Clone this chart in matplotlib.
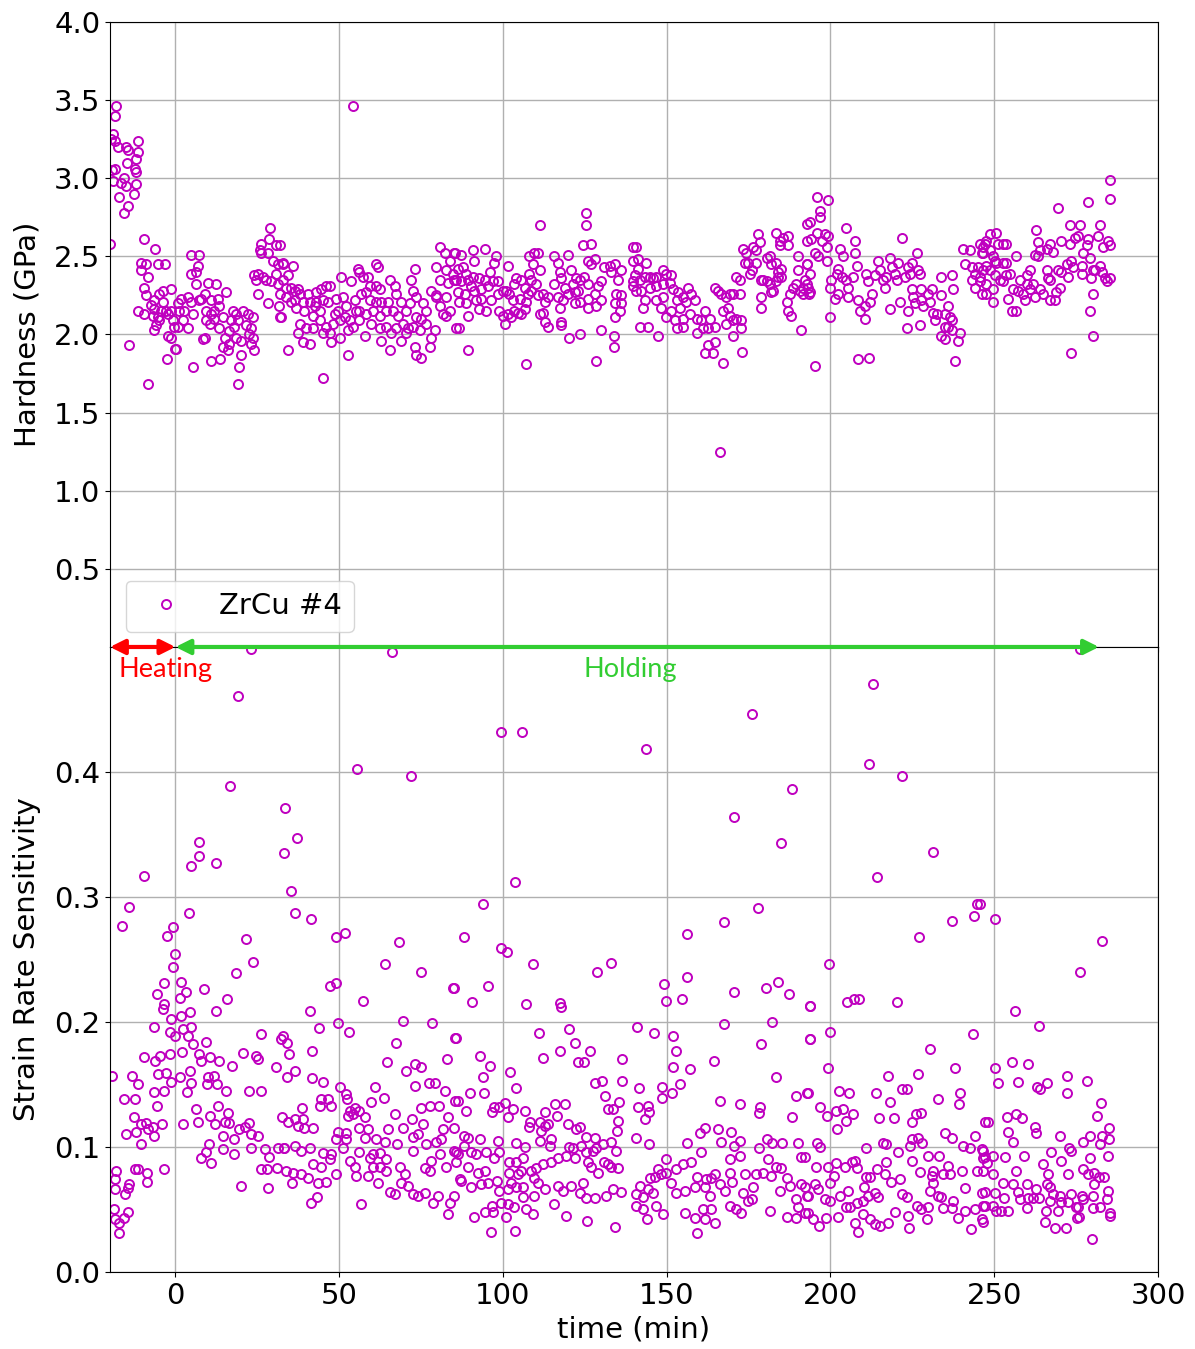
import matplotlib
matplotlib.use("Agg")
import matplotlib.pyplot as plt
import numpy as np

# ---- data: (time in min, value), grouped by time window ----

# hardness (GPa)
hard_m20_33 = [
    (-19.9, 2.58), (-19.8, 3.25), (-19.5, 3.05), (-18.1, 3.46), (-18.4, 3.40), (-19.2, 3.28),
    (-18.6, 3.24), (-17.6, 3.20), (-15.1, 3.20), (-14.6, 3.18), (-11.5, 3.24), (-11.5, 3.17),
    (-12.0, 3.12), (-14.8, 3.10), (-12.5, 3.06), (-12.0, 3.04), (-18.6, 3.06), (-15.6, 3.00),
    (-19.2, 2.98), (-16.6, 2.97), (-15.1, 2.95), (-12.0, 2.96), (-12.7, 2.90), (-17.1, 2.88),
    (-14.4, 2.82), (-15.8, 2.78),
    (-9.5, 2.61), (-6.2, 2.55), (-10.5, 2.46), (-9.0, 2.45), (-5.4, 2.45), (-3.2, 2.45),
    (-10.5, 2.41), (-8.5, 2.37), (-9.7, 2.30), (-9.0, 2.25), (-11.5, 2.15), (-9.5, 2.13),
    (-6.4, 2.22), (-4.9, 2.26), (-3.9, 2.28), (-1.5, 2.29), (-6.4, 2.16), (-4.4, 2.15),
    (-2.9, 2.15), (-6.9, 2.12), (-5.4, 2.11), (-6.4, 2.03), (-5.9, 2.06), (-2.3, 1.99),
    (-1.3, 1.98), (-2.5, 1.84), (-14.1, 1.93), (-8.3, 1.68), (0.0, 1.91), (-0.8, 2.09),
    (-1.3, 2.15), (-7.4, 2.19), (-3.9, 2.21), (-2.4, 2.13), (-0.3, 2.05), (-4.9, 2.09),
    (4.8, 2.51), (7.3, 2.51), (6.8, 2.44), (4.8, 2.39), (6.3, 2.40), (6.3, 2.32), (9.9, 2.33),
    (12.4, 2.32), (1.7, 2.23), (3.8, 2.24), (4.6, 2.21), (7.8, 2.23), (7.3, 2.22), (1.2, 2.15),
    (2.7, 2.15), (5.3, 2.13), (2.2, 2.09), (3.8, 2.04), (0.7, 2.05), (0.2, 1.91), (5.3, 1.79),
    (9.4, 2.15), (10.9, 2.13), (11.9, 2.15), (13.4, 2.18), (15.5, 2.27), (12.9, 2.23),
    (9.4, 2.09), (10.4, 2.07), (11.9, 2.10), (13.4, 2.04), (15.0, 1.98), (8.9, 1.98),
    (8.3, 1.97), (10.9, 1.83), (13.7, 1.84), (16.5, 2.02), (18.5, 1.98), (20.1, 1.96),
    (16.5, 1.94), (16.0, 1.90), (17.5, 2.15), (18.5, 2.13), (19.0, 2.09), (20.6, 2.15),
    (22.1, 2.13), (23.6, 2.11), (23.1, 2.04), (23.6, 1.98), (23.1, 1.94), (24.1, 1.90),
    (19.0, 1.68), (19.5, 1.79), (20.1, 1.87), (14.5, 1.92), (0.7, 2.20), (8.9, 2.26),
    (10.9, 2.22), (14.5, 2.11), (17.0, 2.09), (21.6, 2.06), (22.6, 2.00), (18.0, 2.05),
    (29.0, 2.68), (28.5, 2.61), (30.7, 2.57), (26.2, 2.58), (25.7, 2.54), (28.2, 2.52),
    (29.7, 2.47), (31.3, 2.45), (32.8, 2.46), (24.1, 2.38), (25.1, 2.39), (26.7, 2.37),
    (27.7, 2.35), (29.2, 2.34), (30.7, 2.39), (31.3, 2.32), (25.3, 2.26), (28.2, 2.20),
    (31.5, 2.18), (31.8, 2.11), (24.6, 2.35), (26.2, 2.52),
]
hard_32_86 = [
    (31.8, 2.57), (32.8, 2.45), (35.9, 2.44), (34.3, 2.38), (32.8, 2.35), (35.4, 2.30),
    (36.4, 2.28), (37.4, 2.29), (31.8, 2.26), (33.8, 2.24), (36.4, 2.22), (37.9, 2.26),
    (32.3, 2.11), (35.4, 2.21), (36.9, 2.17), (38.9, 2.21), (41.0, 2.21), (39.4, 2.15),
    (37.9, 2.07), (40.0, 2.04), (42.0, 2.04), (37.4, 2.01), (38.9, 1.95), (41.0, 1.94),
    (34.3, 1.90), (45.0, 1.72), (43.0, 2.27), (44.5, 2.29), (46.1, 2.31), (47.1, 2.31),
    (43.0, 2.21), (45.0, 2.22), (46.6, 2.21), (44.0, 2.15), (42.0, 2.12), (44.0, 2.09),
    (46.1, 2.05), (47.1, 2.01), (48.1, 2.07), (45.0, 2.01), (47.6, 1.95), (50.6, 2.37),
    (53.7, 2.34), (49.1, 2.23), (49.6, 2.15), (51.1, 2.24), (52.2, 2.18), (51.7, 2.11),
    (53.2, 2.09), (55.2, 2.15), (54.2, 2.05), (52.7, 2.03), (50.1, 1.98), (52.7, 1.87),
    (57.8, 1.99), (55.7, 2.42), (56.2, 2.40), (57.3, 2.37), (58.8, 2.37), (61.3, 2.45),
    (61.8, 2.43), (59.3, 2.31), (61.3, 2.31), (62.4, 2.29), (56.7, 2.26), (58.3, 2.27),
    (59.3, 2.22), (61.3, 2.21), (62.9, 2.21), (64.9, 2.21), (56.2, 2.15), (58.3, 2.13),
    (60.3, 2.15), (62.4, 2.12), (64.4, 2.15), (66.4, 2.15), (59.8, 2.07), (62.4, 2.04),
    (64.4, 2.05), (65.9, 2.01), (67.4, 2.04), (62.9, 1.96), (65.4, 1.90), (65.4, 2.35),
    (66.9, 2.31), (69.0, 2.21), (70.5, 2.15), (68.0, 2.12), (69.5, 2.07), (71.0, 2.04),
    (69.0, 1.96), (70.5, 2.01), (72.5, 2.05), (72.0, 2.35), (72.5, 2.28), (73.0, 2.42),
    (73.6, 2.24), (75.6, 2.20), (73.6, 2.11), (75.1, 2.10), (76.6, 2.07), (74.6, 2.03),
    (73.0, 1.92), (73.6, 1.87), (75.1, 1.85), (77.6, 1.92), (78.1, 1.98), (79.2, 2.03),
    (78.1, 2.28), (79.7, 2.25), (80.7, 2.18), (81.7, 2.13), (82.7, 2.12), (83.7, 2.15),
    (85.8, 2.04), (80.7, 2.56), (82.2, 2.52), (83.7, 2.47), (85.3, 2.52), (79.7, 2.43),
    (82.7, 2.41), (84.8, 2.39), (80.7, 2.35), (83.2, 2.33), (85.8, 2.35), (79.7, 2.24),
    (82.7, 2.24), (33.8, 2.30), (40.5, 2.26), (42.5, 2.18), (48.6, 2.13), (50.1, 2.09),
    (56.2, 2.09), (54.7, 2.22), (67.4, 2.26), (71.5, 2.20), (76.6, 2.15), (54.2, 3.46),
]
hard_85_140 = [
    (85.2, 2.52), (87.2, 2.51), (90.8, 2.54), (94.4, 2.55), (91.3, 2.47), (86.2, 2.42),
    (87.7, 2.43), (88.8, 2.39), (90.8, 2.37), (89.3, 2.35), (85.2, 2.35), (87.2, 2.34),
    (90.3, 2.31), (92.8, 2.36), (94.4, 2.35), (95.9, 2.40), (97.4, 2.46), (97.9, 2.50),
    (86.2, 2.27), (88.3, 2.26), (91.3, 2.28), (93.3, 2.29), (95.4, 2.31), (96.9, 2.34),
    (98.4, 2.34), (86.7, 2.21), (88.8, 2.20), (91.8, 2.22), (93.3, 2.23), (96.4, 2.22),
    (98.4, 2.26), (100.0, 2.28), (92.8, 2.16), (94.9, 2.15), (86.7, 2.04), (89.3, 1.90),
    (89.3, 2.12), (98.9, 2.15), (100.0, 2.12), (100.5, 2.07), (101.5, 2.13), (102.5, 2.11),
    (103.5, 2.15), (104.5, 2.14), (105.6, 2.13), (106.6, 2.16), (101.5, 2.44), (101.0, 2.28),
    (102.0, 2.26), (103.5, 2.32), (104.0, 2.36), (105.6, 2.35), (106.6, 2.30), (107.6, 2.26),
    (103.0, 2.22), (105.1, 2.23), (107.1, 2.21), (107.1, 1.81), (108.1, 2.50), (109.6, 2.52),
    (110.7, 2.52), (109.1, 2.45), (111.2, 2.41), (108.1, 2.39), (111.2, 2.70), (108.6, 2.35),
    (110.1, 2.32), (108.6, 2.28), (110.7, 2.25), (112.2, 2.26), (112.7, 2.21), (113.7, 2.24),
    (112.2, 2.14), (111.2, 2.13), (112.7, 2.08), (113.7, 2.05), (115.7, 2.50), (116.8, 2.46),
    (117.3, 2.40), (117.8, 2.36), (115.7, 2.32), (118.8, 2.30), (119.8, 2.26), (116.8, 2.24),
    (118.3, 2.22), (117.3, 2.17), (117.8, 2.08), (117.8, 2.06), (120.3, 1.98), (123.4, 2.00),
    (119.8, 2.51), (120.8, 2.41), (122.4, 2.36), (123.4, 2.35), (121.9, 2.27), (122.9, 2.28),
    (121.9, 2.20), (123.4, 2.21), (121.4, 2.32), (124.9, 2.37), (124.4, 2.57), (127.0, 2.58),
    (125.4, 2.70), (125.4, 2.78), (125.9, 2.47), (127.0, 2.45), (128.0, 2.48), (125.9, 2.32),
    (125.9, 2.23), (128.0, 2.26), (129.0, 2.31), (130.0, 2.34), (125.9, 2.17), (128.5, 2.18),
    (130.0, 2.22), (130.0, 2.03), (128.5, 1.83), (131.0, 2.43), (132.6, 2.44), (133.1, 2.40),
    (134.1, 2.45), (136.1, 2.41), (135.1, 2.35), (134.6, 2.26), (136.1, 2.25), (134.1, 2.20),
    (135.6, 2.15), (136.1, 2.20), (134.1, 2.11), (133.9, 1.99), (133.9, 1.92), (139.7, 2.56),
    (139.7, 2.47), (139.7, 2.31),
]
hard_139_194 = [
    (140.7, 2.56), (141.2, 2.48), (143.8, 2.46), (141.2, 2.42), (139.7, 2.34), (141.8, 2.35),
    (140.2, 2.38), (143.3, 2.37), (144.8, 2.37), (145.8, 2.36), (146.8, 2.37), (140.7, 2.28),
    (142.3, 2.28), (144.8, 2.30), (146.8, 2.31), (148.9, 2.41), (149.9, 2.39), (148.9, 2.32),
    (150.9, 2.33), (151.4, 2.38), (143.3, 2.22), (142.8, 2.17), (146.8, 2.22), (148.9, 2.24),
    (148.4, 2.17), (141.8, 2.05), (144.3, 2.05), (147.2, 1.99), (151.9, 2.29), (153.5, 2.27),
    (155.0, 2.24), (156.5, 2.30), (157.5, 2.26), (158.6, 2.22), (153.0, 2.22), (154.0, 2.17),
    (156.0, 2.21), (151.4, 2.15), (149.9, 2.11), (152.4, 2.09), (155.0, 2.10), (157.0, 2.13),
    (153.0, 2.04), (155.0, 2.05), (159.1, 2.10), (160.6, 2.09), (161.6, 2.15), (163.1, 2.10),
    (161.1, 2.04), (159.1, 2.01), (162.6, 2.04), (164.7, 2.05), (161.6, 1.88), (162.6, 1.93),
    (164.2, 1.88), (164.7, 1.95), (167.2, 1.82), (164.7, 2.30), (165.7, 2.28), (166.7, 2.26),
    (168.2, 2.24), (169.3, 2.26), (170.3, 2.26), (172.3, 2.26), (168.7, 2.17), (167.2, 2.15),
    (169.3, 2.12), (170.3, 2.09), (171.3, 2.10), (172.8, 2.09), (172.8, 2.04), (170.3, 1.99),
    (168.2, 2.07), (173.1, 1.89), (166.2, 1.25), (171.3, 2.37), (172.3, 2.35), (173.3, 2.55),
    (174.3, 2.52), (173.8, 2.46), (174.9, 2.46), (175.4, 2.39), (175.9, 2.41), (176.4, 2.56),
    (177.4, 2.54), (177.4, 2.46), (177.9, 2.64), (178.4, 2.59), (178.9, 2.35), (178.9, 2.24),
    (178.9, 2.17), (180.5, 2.49), (181.5, 2.50), (182.0, 2.45), (183.5, 2.46), (184.0, 2.40),
    (185.0, 2.42), (185.0, 2.37), (179.4, 2.35), (180.5, 2.34), (181.5, 2.32), (182.5, 2.28),
    (183.5, 2.34), (184.0, 2.37), (182.0, 2.27), (183.5, 2.65), (184.5, 2.60), (185.5, 2.62),
    (187.1, 2.63), (184.5, 2.57), (187.1, 2.57), (190.1, 2.50), (190.1, 2.41), (192.7, 2.45),
    (187.6, 2.26), (188.6, 2.30), (189.6, 2.32), (190.6, 2.28), (191.6, 2.30), (192.7, 2.32),
    (193.7, 2.27), (186.6, 2.21), (187.1, 2.15), (188.1, 2.12), (191.6, 2.26), (191.0, 2.03),
    (192.7, 2.71), (192.7, 2.60),
]
hard_192_247 = [
    (195.8, 2.88), (199.3, 2.86), (196.8, 2.79), (196.8, 2.75), (193.7, 2.72), (194.2, 2.61),
    (195.8, 2.65), (197.3, 2.60), (198.3, 2.64), (199.3, 2.63), (198.8, 2.56), (195.3, 2.52),
    (196.3, 2.50), (198.8, 2.47), (192.7, 2.45), (193.7, 2.39), (192.2, 2.35), (193.2, 2.30),
    (193.4, 2.26), (195.3, 1.80), (199.8, 2.11), (200.3, 2.35), (199.8, 2.30), (201.4, 2.23),
    (202.4, 2.26), (201.9, 2.39), (202.4, 2.42), (202.9, 2.55), (203.9, 2.50), (203.4, 2.37),
    (204.9, 2.35), (205.4, 2.30), (205.4, 2.24), (207.0, 2.37), (208.0, 2.44), (207.5, 2.52),
    (204.9, 2.68), (207.5, 2.60), (208.5, 2.22), (209.0, 2.15), (210.5, 2.18), (210.5, 2.10),
    (211.0, 2.39), (211.5, 2.34), (212.6, 2.26), (212.1, 2.21), (208.5, 1.84), (211.8, 1.85),
    (213.6, 2.38), (214.6, 2.47), (215.1, 2.41), (216.1, 2.35), (216.6, 2.30), (217.1, 2.37),
    (218.2, 2.49), (218.7, 2.43), (219.7, 2.39), (220.7, 2.46), (220.2, 2.35), (218.2, 2.16),
    (221.2, 2.21), (221.7, 2.62), (222.7, 2.37), (223.8, 2.43), (224.8, 2.46), (224.3, 2.39),
    (224.8, 2.29), (223.3, 2.04), (223.8, 2.15), (225.3, 2.24), (226.3, 2.52), (226.8, 2.41),
    (227.3, 2.39), (227.8, 2.29), (225.8, 2.20), (227.8, 2.22), (228.3, 2.18), (229.9, 2.26),
    (230.9, 2.29), (230.4, 2.21), (231.4, 2.14), (231.9, 2.09), (232.4, 2.13), (233.9, 2.37),
    (233.9, 2.25), (235.0, 2.13), (236.0, 2.18), (237.0, 2.38), (237.5, 2.29), (236.5, 2.11),
    (237.0, 2.09), (235.0, 2.05), (233.9, 1.99), (236.0, 2.05), (235.0, 1.97), (237.0, 2.03),
    (239.5, 2.01), (239.0, 1.96), (238.0, 1.83), (227.3, 2.06), (240.6, 2.55), (242.6, 2.54),
    (241.1, 2.45), (243.1, 2.43), (244.1, 2.39), (245.2, 2.43), (246.2, 2.52), (247.2, 2.58),
    (244.1, 2.30), (246.2, 2.26), (243.1, 2.35),
]
hard_245_286 = [
    (245.6, 2.58), (247.6, 2.60), (248.7, 2.64), (250.7, 2.65), (251.2, 2.58), (252.7, 2.58),
    (253.7, 2.58), (246.6, 2.56), (246.6, 2.52), (248.7, 2.54), (249.7, 2.50), (250.2, 2.47),
    (247.6, 2.44), (246.6, 2.41), (248.7, 2.41), (250.7, 2.46), (252.7, 2.46), (253.7, 2.46),
    (256.8, 2.50), (245.6, 2.37), (245.6, 2.34), (247.6, 2.32), (250.2, 2.38), (251.7, 2.35),
    (252.7, 2.34), (253.7, 2.38), (254.8, 2.39), (247.6, 2.26), (249.7, 2.29), (249.7, 2.21),
    (254.3, 2.23), (255.8, 2.29), (255.3, 2.15), (256.8, 2.15), (257.8, 2.35), (257.3, 2.28),
    (258.8, 2.26), (259.3, 2.22), (259.9, 2.32), (260.9, 2.41), (259.9, 2.38), (260.9, 2.29),
    (261.9, 2.32), (262.4, 2.24), (263.9, 2.29), (264.9, 2.26), (266.0, 2.41), (266.5, 2.36),
    (267.0, 2.35), (267.0, 2.22), (268.5, 2.22), (269.0, 2.27), (270.0, 2.30), (269.5, 2.41),
    (270.5, 2.40), (262.9, 2.67), (263.4, 2.59), (266.0, 2.55), (267.0, 2.58), (268.0, 2.53),
    (263.9, 2.54), (263.4, 2.50), (262.4, 2.51), (269.5, 2.81), (270.5, 2.60), (273.1, 2.70),
    (273.1, 2.58), (273.6, 2.47), (272.1, 2.45), (272.6, 2.37), (274.1, 2.43), (274.6, 2.62),
    (275.6, 2.63), (276.1, 2.70), (276.7, 2.44), (277.2, 2.52), (276.7, 2.39), (278.7, 2.61),
    (279.2, 2.49), (278.2, 2.57), (279.7, 2.36), (280.2, 2.41), (280.7, 2.41), (281.8, 2.63),
    (282.3, 2.70), (282.3, 2.44), (282.8, 2.40), (283.3, 2.56), (283.8, 2.36), (284.8, 2.60),
    (284.3, 2.34), (285.3, 2.57), (285.5, 2.36), (273.6, 1.88), (280.2, 1.99), (279.2, 2.15),
    (280.2, 2.26), (278.7, 2.85), (285.3, 2.87), (285.3, 2.99),
]

# strain rate sensitivity (-)
srs_m20_33 = [
    (23.1, 0.498), (19.0, 0.461), (16.8, 0.389), (7.3, 0.344), (7.1, 0.333), (4.8, 0.325),
    (12.4, 0.327), (-9.5, 0.317), (-14.1, 0.292), (-16.4, 0.277), (4.0, 0.287), (-0.6, 0.276),
    (-2.7, 0.269), (0.0, 0.254), (-0.8, 0.244), (-3.4, 0.231), (-5.6, 0.222), (1.7, 0.232),
    (3.2, 0.224), (1.5, 0.219), (8.6, 0.226), (-3.6, 0.214), (-3.9, 0.210), (4.3, 0.208),
    (12.4, 0.209), (15.8, 0.218), (21.4, 0.266), (23.8, 0.248), (18.6, 0.239), (1.7, 0.205),
    (-1.3, 0.202), (-6.4, 0.196), (-1.8, 0.192), (-0.1, 0.189), (2.2, 0.194), (4.6, 0.196),
    (3.8, 0.189), (26.2, 0.190), (32.3, 0.186), (9.4, 0.184), (5.3, 0.182), (-9.5, 0.172),
    (-4.6, 0.173), (-1.8, 0.174), (2.0, 0.176), (7.3, 0.174), (7.8, 0.169), (10.7, 0.172),
    (13.4, 0.169), (20.6, 0.175), (24.6, 0.173), (25.1, 0.170), (-6.2, 0.169), (-19.5, 0.157),
    (-13.3, 0.157), (-11.5, 0.150), (-5.4, 0.158), (-2.9, 0.159), (-1.3, 0.152), (1.5, 0.156),
    (4.3, 0.161), (4.8, 0.151), (9.6, 0.150), (9.9, 0.156), (11.9, 0.157), (12.7, 0.150),
    (15.5, 0.145), (17.3, 0.165), (22.6, 0.145), (26.0, 0.145), (30.7, 0.164), (-15.8, 0.138),
    (-12.2, 0.138), (-6.4, 0.144), (-3.6, 0.145), (3.5, 0.144), (-5.6, 0.133), (6.3, 0.130),
    (6.8, 0.120), (12.9, 0.133), (16.0, 0.127), (10.4, 0.125), (-12.7, 0.124), (-15.1, 0.110),
    (-12.0, 0.112), (-10.5, 0.118), (-9.0, 0.119), (-8.5, 0.114), (-7.0, 0.116), (-6.4, 0.109),
    (-4.1, 0.118), (-10.5, 0.102), (2.2, 0.118), (12.0, 0.118), (15.0, 0.120), (16.5, 0.119),
    (14.5, 0.109), (18.0, 0.106), (19.5, 0.114), (21.1, 0.116), (22.6, 0.119), (23.1, 0.110),
    (25.1, 0.109), (10.1, 0.102), (9.2, 0.096), (7.8, 0.091), (10.9, 0.087), (14.5, 0.098),
    (18.0, 0.094), (23.1, 0.099), (27.2, 0.098), (28.7, 0.092), (31.3, 0.099), (33.3, 0.099),
    (26.2, 0.082), (28.0, 0.082), (31.0, 0.083), (20.1, 0.069), (28.2, 0.067), (-18.1, 0.081),
    (-18.6, 0.074), (-18.6, 0.066), (-15.4, 0.062), (-14.1, 0.070), (-14.6, 0.067),
    (-12.5, 0.082), (-11.5, 0.082), (-8.7, 0.079), (-8.7, 0.072), (-3.4, 0.082), (-18.8, 0.050),
    (-18.6, 0.042), (-17.1, 0.039), (-15.6, 0.043), (-14.4, 0.048), (-17.1, 0.031),
]
srs_32_86 = [
    (66.2, 0.496), (55.4, 0.402), (71.8, 0.397), (33.5, 0.371), (37.1, 0.347), (33.1, 0.335),
    (35.2, 0.305), (36.4, 0.287), (41.3, 0.282), (49.1, 0.268), (51.7, 0.271), (68.2, 0.264),
    (64.1, 0.246), (75.1, 0.240), (47.3, 0.229), (49.1, 0.231), (84.8, 0.227), (57.3, 0.217),
    (41.2, 0.209), (69.5, 0.201), (49.6, 0.199), (78.3, 0.199), (43.8, 0.195), (52.9, 0.192),
    (32.8, 0.189), (34.0, 0.183), (34.7, 0.174), (41.8, 0.177), (85.3, 0.187), (67.2, 0.183),
    (82.9, 0.170), (64.6, 0.168), (73.0, 0.166), (74.9, 0.164), (70.3, 0.161), (36.6, 0.161),
    (34.0, 0.156), (41.8, 0.155), (45.2, 0.152), (50.1, 0.148), (73.2, 0.149), (77.3, 0.151),
    (79.4, 0.151), (82.2, 0.145), (61.0, 0.148), (63.7, 0.139), (52.2, 0.142), (52.5, 0.138),
    (44.5, 0.138), (46.6, 0.138), (47.6, 0.133), (44.0, 0.133), (59.8, 0.136), (75.1, 0.131),
    (77.8, 0.133), (80.5, 0.133), (85.5, 0.137), (38.7, 0.131), (53.2, 0.129), (54.7, 0.131),
    (56.2, 0.129), (52.7, 0.125), (54.2, 0.126), (57.8, 0.124), (66.9, 0.126), (32.6, 0.124),
    (34.3, 0.120), (36.4, 0.122), (37.4, 0.117), (38.9, 0.122), (39.4, 0.115), (42.0, 0.115),
    (72.2, 0.122), (75.6, 0.118), (83.2, 0.124), (49.6, 0.112), (52.0, 0.111), (56.2, 0.115),
    (58.8, 0.114), (64.9, 0.114), (69.6, 0.115), (74.1, 0.110), (72.5, 0.108), (81.7, 0.114),
    (49.1, 0.106), (52.2, 0.106), (57.8, 0.107), (61.3, 0.106), (63.9, 0.104), (67.6, 0.102),
    (76.6, 0.102), (79.7, 0.104), (81.2, 0.106), (33.3, 0.099), (36.4, 0.101), (38.4, 0.097),
    (41.0, 0.099), (72.5, 0.097), (45.0, 0.095), (47.6, 0.094), (51.1, 0.099), (56.2, 0.096),
    (60.3, 0.094), (62.4, 0.095), (64.4, 0.090), (78.1, 0.089), (80.7, 0.094), (85.8, 0.096),
    (42.0, 0.086), (44.5, 0.084), (47.1, 0.090), (53.2, 0.089), (54.7, 0.084), (59.3, 0.091),
    (60.3, 0.084), (62.4, 0.084), (64.4, 0.081), (68.5, 0.084), (70.0, 0.078), (76.1, 0.083),
    (77.6, 0.081), (82.7, 0.084), (85.8, 0.088), (33.8, 0.081), (35.9, 0.079), (38.4, 0.078),
    (40.5, 0.075), (43.5, 0.071), (46.1, 0.072), (49.1, 0.078), (55.2, 0.077), (58.8, 0.077),
    (61.8, 0.071), (65.4, 0.064), (66.9, 0.062), (69.0, 0.071), (71.0, 0.069), (72.5, 0.062),
    (74.1, 0.061), (76.1, 0.063), (78.6, 0.055), (80.2, 0.061), (83.7, 0.055), (83.2, 0.046),
    (86.8, 0.074), (35.7, 0.071), (41.5, 0.055), (43.2, 0.060), (56.7, 0.054),
]
srs_85_138 = [
    (99.5, 0.432), (105.8, 0.432), (103.7, 0.312), (93.9, 0.294), (88.1, 0.268), (99.5, 0.259),
    (101.3, 0.256), (109.1, 0.246), (133.1, 0.247), (128.8, 0.240), (85.2, 0.227), (95.4, 0.229),
    (90.5, 0.216), (107.1, 0.214), (117.3, 0.215), (117.8, 0.212), (120.3, 0.194), (111.0, 0.191),
    (85.7, 0.187), (121.9, 0.183), (117.4, 0.177), (126.7, 0.177), (112.2, 0.171), (122.9, 0.168),
    (124.9, 0.168), (136.3, 0.170), (93.1, 0.173), (95.9, 0.165), (93.9, 0.156), (102.3, 0.160),
    (128.0, 0.151), (130.2, 0.153), (136.3, 0.153), (104.0, 0.147), (90.0, 0.143), (94.1, 0.143),
    (131.2, 0.141), (86.4, 0.137), (135.4, 0.136), (115.8, 0.134), (119.0, 0.134), (97.4, 0.132),
    (98.9, 0.132), (96.6, 0.128), (100.7, 0.135), (101.5, 0.124), (103.0, 0.130), (106.6, 0.129),
    (108.3, 0.120), (108.1, 0.116), (112.9, 0.128), (88.6, 0.129), (132.2, 0.130), (133.6, 0.130),
    (116.6, 0.125), (111.2, 0.120), (112.7, 0.117), (113.9, 0.118), (119.8, 0.118), (123.4, 0.116),
    (122.4, 0.114), (135.1, 0.121), (134.8, 0.113), (85.2, 0.115), (88.1, 0.109), (89.3, 0.107),
    (93.1, 0.106), (98.4, 0.105), (111.5, 0.113), (114.7, 0.106), (114.5, 0.101), (111.2, 0.105),
    (125.4, 0.108), (128.0, 0.107), (104.0, 0.103), (106.8, 0.100), (120.3, 0.100), (121.4, 0.099),
    (123.9, 0.101), (125.4, 0.096), (127.5, 0.097), (128.5, 0.099), (130.5, 0.102), (133.1, 0.104),
    (134.6, 0.097), (85.2, 0.097), (86.2, 0.094), (88.1, 0.101), (90.3, 0.096), (91.8, 0.094),
    (94.9, 0.096), (97.2, 0.091), (98.9, 0.096), (119.3, 0.093), (116.8, 0.091), (114.7, 0.088),
    (112.2, 0.086), (110.1, 0.083), (108.6, 0.081), (102.0, 0.088), (104.0, 0.088), (106.1, 0.091),
    (105.6, 0.081), (121.9, 0.091), (125.9, 0.088), (127.0, 0.084), (129.0, 0.079), (131.0, 0.088),
    (132.0, 0.086), (135.1, 0.083), (133.1, 0.084), (89.3, 0.084), (92.3, 0.079), (94.6, 0.081),
    (87.2, 0.073), (90.3, 0.068), (93.3, 0.070), (95.4, 0.071), (98.2, 0.073), (102.0, 0.079),
    (104.5, 0.078), (102.5, 0.071), (106.1, 0.068), (101.5, 0.066), (104.0, 0.068), (109.6, 0.075),
    (110.7, 0.071), (112.7, 0.066), (116.8, 0.069), (118.3, 0.065), (120.8, 0.069), (123.4, 0.063),
    (125.4, 0.059), (128.0, 0.059), (124.4, 0.071), (131.5, 0.061), (133.6, 0.066), (136.1, 0.064),
    (85.2, 0.061), (98.9, 0.065), (99.5, 0.055), (101.5, 0.054), (103.5, 0.052), (106.1, 0.060),
    (107.1, 0.050), (109.1, 0.046), (115.7, 0.054), (109.6, 0.061), (91.1, 0.044), (94.4, 0.048),
    (96.6, 0.053), (96.9, 0.048), (101.0, 0.044), (119.3, 0.045), (125.6, 0.041), (134.1, 0.036),
    (96.2, 0.032), (103.8, 0.033),
]
srs_139_194 = [
    (143.6, 0.418), (176.0, 0.446), (188.3, 0.386), (170.5, 0.364), (184.8, 0.343), (177.8, 0.291),
    (167.4, 0.280), (156.2, 0.270), (149.2, 0.230), (149.9, 0.217), (156.2, 0.236), (154.7, 0.218),
    (170.5, 0.224), (180.3, 0.227), (184.1, 0.232), (187.2, 0.222), (193.7, 0.213), (141.0, 0.196),
    (146.1, 0.191), (152.0, 0.189), (152.7, 0.177), (167.5, 0.198), (182.3, 0.200), (178.9, 0.182),
    (193.7, 0.186), (164.3, 0.169), (152.0, 0.164), (157.0, 0.162), (154.2, 0.150), (183.3, 0.156),
    (141.6, 0.147), (148.6, 0.148), (148.6, 0.139), (151.6, 0.143), (189.4, 0.141), (192.7, 0.143),
    (141.2, 0.132), (144.3, 0.133), (143.3, 0.122), (144.5, 0.128), (166.3, 0.137), (172.5, 0.134),
    (178.6, 0.132), (178.2, 0.127), (188.4, 0.124), (161.6, 0.115), (160.1, 0.111), (165.7, 0.114),
    (166.7, 0.104), (169.6, 0.112), (172.3, 0.105), (170.5, 0.101), (180.5, 0.106), (182.3, 0.103),
    (185.2, 0.103), (190.1, 0.103), (140.5, 0.107), (144.5, 0.102), (156.2, 0.103), (160.6, 0.096),
    (169.3, 0.090), (172.3, 0.093), (178.2, 0.099), (191.0, 0.092), (149.9, 0.090), (155.0, 0.086),
    (157.5, 0.088), (152.8, 0.082), (147.4, 0.082), (146.3, 0.076), (148.4, 0.078), (144.8, 0.075),
    (141.8, 0.069), (140.7, 0.062), (140.5, 0.053), (142.8, 0.060), (144.3, 0.066), (145.8, 0.063),
    (146.8, 0.053), (142.8, 0.050), (144.0, 0.042), (148.9, 0.046), (149.9, 0.079), (151.4, 0.071),
    (152.9, 0.063), (155.5, 0.065), (159.1, 0.076), (158.6, 0.068), (162.1, 0.074), (163.6, 0.075),
    (164.7, 0.078), (161.6, 0.068), (163.1, 0.061), (166.2, 0.070), (167.7, 0.065), (169.3, 0.079),
    (169.8, 0.072), (169.3, 0.053), (171.3, 0.050), (172.8, 0.047), (173.8, 0.078), (173.3, 0.063),
    (174.9, 0.057), (176.4, 0.068), (175.9, 0.058), (177.4, 0.078), (179.4, 0.079), (181.0, 0.090),
    (182.0, 0.077), (183.5, 0.084), (185.0, 0.083), (184.5, 0.065), (186.6, 0.075), (187.6, 0.069),
    (189.6, 0.058), (191.1, 0.070), (192.7, 0.061), (190.1, 0.052), (192.2, 0.047), (181.5, 0.049),
    (186.6, 0.044), (189.6, 0.043), (155.5, 0.047), (158.6, 0.043), (161.6, 0.042), (164.7, 0.039),
    (159.1, 0.031), (161.1, 0.050), (163.6, 0.050),
]
srs_192_247 = [
    (213.1, 0.470), (211.9, 0.406), (221.7, 0.397), (231.4, 0.336), (214.3, 0.316), (244.6, 0.294),
    (243.8, 0.285), (237.2, 0.281), (227.1, 0.268), (199.5, 0.246), (193.9, 0.213), (205.1, 0.216),
    (207.2, 0.218), (208.7, 0.218), (220.3, 0.216), (193.9, 0.186), (200.0, 0.192), (243.6, 0.190),
    (230.4, 0.178), (199.1, 0.163), (217.7, 0.157), (226.8, 0.158), (238.0, 0.163), (193.2, 0.143),
    (202.7, 0.145), (205.7, 0.143), (213.8, 0.143), (221.7, 0.146), (223.3, 0.146), (239.6, 0.143),
    (239.4, 0.134), (232.7, 0.138), (218.2, 0.136), (196.8, 0.132), (198.8, 0.125), (201.6, 0.129),
    (203.9, 0.130), (204.6, 0.121), (207.0, 0.126), (214.8, 0.123), (219.5, 0.123), (224.8, 0.120),
    (226.1, 0.126), (227.8, 0.127), (202.1, 0.114), (235.0, 0.111), (237.0, 0.107), (244.1, 0.109),
    (247.2, 0.120), (195.8, 0.103), (196.8, 0.100), (216.1, 0.103), (217.1, 0.102), (224.3, 0.101),
    (224.8, 0.106), (226.8, 0.107), (228.0, 0.103), (211.0, 0.099), (220.7, 0.096), (240.6, 0.101),
    (242.6, 0.099), (246.2, 0.098), (192.2, 0.092), (229.9, 0.093), (233.2, 0.093), (201.6, 0.087),
    (199.3, 0.084), (206.5, 0.088), (207.5, 0.089), (208.0, 0.083), (204.4, 0.084), (217.1, 0.088),
    (214.1, 0.082), (195.6, 0.084), (224.8, 0.089), (227.3, 0.080), (231.4, 0.081), (236.0, 0.085),
    (240.1, 0.081), (244.6, 0.081), (246.7, 0.091), (201.1, 0.077), (199.8, 0.071), (211.0, 0.076),
    (210.3, 0.068), (212.1, 0.076), (216.6, 0.078), (218.5, 0.072), (221.2, 0.074), (230.9, 0.077),
    (234.5, 0.078), (236.5, 0.078), (231.4, 0.071), (230.4, 0.065), (241.1, 0.067), (192.2, 0.068),
    (193.2, 0.061), (195.3, 0.070), (196.3, 0.066), (198.3, 0.058), (199.8, 0.057), (202.9, 0.061),
    (205.4, 0.065), (204.9, 0.052), (205.9, 0.052), (208.0, 0.055), (210.0, 0.057), (211.5, 0.061),
    (213.6, 0.063), (214.6, 0.060), (221.7, 0.062), (223.3, 0.060), (226.3, 0.053), (227.8, 0.050),
    (229.9, 0.052), (232.9, 0.061), (233.9, 0.060), (234.5, 0.051), (237.0, 0.051), (237.5, 0.057),
    (241.1, 0.049), (244.1, 0.050), (246.2, 0.063), (247.2, 0.053), (193.2, 0.047), (194.7, 0.042),
    (196.5, 0.037), (198.5, 0.043), (202.4, 0.044), (207.5, 0.039), (208.5, 0.032), (210.0, 0.046),
    (212.1, 0.042), (213.6, 0.038), (215.1, 0.037), (217.7, 0.039), (219.7, 0.048), (223.8, 0.045),
    (224.0, 0.035), (229.4, 0.042), (239.0, 0.043), (242.9, 0.034), (246.2, 0.042),
]
srs_245_286 = [
    (276.2, 0.498), (245.6, 0.294), (250.2, 0.282), (283.0, 0.265), (276.2, 0.240), (256.3, 0.209),
    (263.6, 0.197), (250.2, 0.163), (255.5, 0.168), (260.4, 0.166), (251.2, 0.151), (257.3, 0.152),
    (263.1, 0.148), (263.9, 0.146), (266.2, 0.151), (272.3, 0.157), (272.1, 0.143), (278.2, 0.153),
    (282.5, 0.135), (281.4, 0.125), (248.1, 0.120), (254.0, 0.124), (256.8, 0.126), (258.6, 0.123),
    (262.4, 0.116), (262.9, 0.111), (254.1, 0.112), (255.8, 0.104), (285.0, 0.115), (285.1, 0.106),
    (282.8, 0.109), (282.3, 0.102), (279.2, 0.109), (277.2, 0.104), (270.0, 0.109), (272.9, 0.099),
    (273.6, 0.097), (267.2, 0.096), (284.8, 0.093), (246.6, 0.097), (247.1, 0.092), (249.7, 0.093),
    (247.8, 0.087), (253.2, 0.092), (259.0, 0.093), (279.4, 0.091), (265.0, 0.086), (270.3, 0.089),
    (246.6, 0.081), (249.5, 0.078), (256.6, 0.081), (266.5, 0.078), (272.6, 0.078), (277.0, 0.082),
    (278.7, 0.078), (280.4, 0.079), (282.1, 0.076), (283.5, 0.076), (252.7, 0.071), (255.8, 0.070),
    (259.9, 0.070), (266.0, 0.070), (267.0, 0.068), (280.4, 0.070), (284.8, 0.065), (247.1, 0.064),
    (250.2, 0.063), (252.9, 0.059), (257.3, 0.064), (257.8, 0.058), (260.4, 0.059), (261.9, 0.059),
    (262.9, 0.066), (263.7, 0.059), (267.0, 0.057), (268.0, 0.062), (270.0, 0.061), (270.5, 0.056),
    (272.6, 0.056), (273.6, 0.062), (275.1, 0.052), (276.7, 0.061), (277.2, 0.058), (280.2, 0.061),
    (284.3, 0.058), (246.6, 0.053), (249.7, 0.053), (250.5, 0.049), (252.2, 0.049), (254.3, 0.049),
    (259.9, 0.051), (265.8, 0.049), (269.5, 0.049), (275.6, 0.052), (280.2, 0.051), (282.3, 0.052),
    (285.3, 0.047), (285.5, 0.045), (246.6, 0.040), (265.5, 0.040), (268.5, 0.035), (271.9, 0.035),
    (275.3, 0.043), (275.8, 0.044), (279.9, 0.026),
]

heating_span = (-20, 0)
holding_span = (0, 282)
xticks = [0, 50, 100, 150, 200, 250, 300]
hard_ticks = [0.5, 1.0, 1.5, 2.0, 2.5, 3.0, 3.5, 4.0]
srs_ticks = [0.0, 0.1, 0.2, 0.3, 0.4]


def unpack(*groups):
    pts = [p for g in groups for p in g]
    return np.array([p[0] for p in pts]), np.array([p[1] for p in pts])


hard_t, hard_v = unpack(hard_m20_33, hard_32_86, hard_85_140, hard_139_194, hard_192_247, hard_245_286)
srs_t, srs_v = unpack(srs_m20_33, srs_32_86, srs_85_138, srs_139_194, srs_192_247, srs_245_286)

plt.rcParams["font.size"] = 21
plt.rcParams["font.family"] = "DejaVu Sans"

fig = plt.figure(figsize=(11.95, 13.49), dpi=100)
ax1 = fig.add_axes([0.092, 0.5204, 0.877, 0.4633])
ax2 = fig.add_axes([0.092, 0.0571, 0.877, 0.4633], sharex=ax1)

mk = dict(linestyle="none", marker="o", mfc="none", mec="m", ms=6.5, mew=1.4)

ax1.plot(hard_t, hard_v, label="ZrCu #4", **mk)
ax1.set_ylim(0, 4.0)
ax1.set_yticks(hard_ticks)
ax1.set_ylabel("Hardness (GPa)", labelpad=9)
ax1.grid(True, color="#b0b0b0", lw=1.0)
ax1.set_axisbelow(True)
ax1.tick_params(labelbottom=False)
ax1.legend(loc="lower left", bbox_to_anchor=(0.015, 0.024), borderaxespad=0,
           numpoints=1, fontsize=21, framealpha=0.8)

ax2.plot(srs_t, srs_v, **mk)
ax2.set_xlim(-20, 300)
ax2.set_xticks(xticks)
ax2.set_ylim(0, 0.5)
ax2.set_yticks(srs_ticks)
ax2.set_ylabel("Strain Rate Sensitivity", labelpad=9)
ax2.set_xlabel("time (min)")
ax2.grid(True, color="#b0b0b0", lw=1.0)
ax2.set_axisbelow(True)

# heating / holding arrows on the panel border
arrow_kw = dict(arrowstyle="<|-|>", lw=3, mutation_scale=22, shrinkA=0, shrinkB=0)
ax2.annotate("", xy=(heating_span[1], 0.5), xytext=(heating_span[0], 0.5),
             arrowprops=dict(color="red", **arrow_kw), annotation_clip=False, zorder=5)
ax2.annotate("", xy=(holding_span[1], 0.5), xytext=(holding_span[0], 0.5),
             arrowprops=dict(color="limegreen", **arrow_kw), annotation_clip=False, zorder=5)
ax2.text(-3, 0.482, "Heating", color="red", ha="center", va="center", fontsize=19.5, family="Lato")
ax2.text(139, 0.482, "Holding", color="limegreen", ha="center", va="center", fontsize=19.5,
         family="Lato")

fig.savefig("out.png", dpi=100)
